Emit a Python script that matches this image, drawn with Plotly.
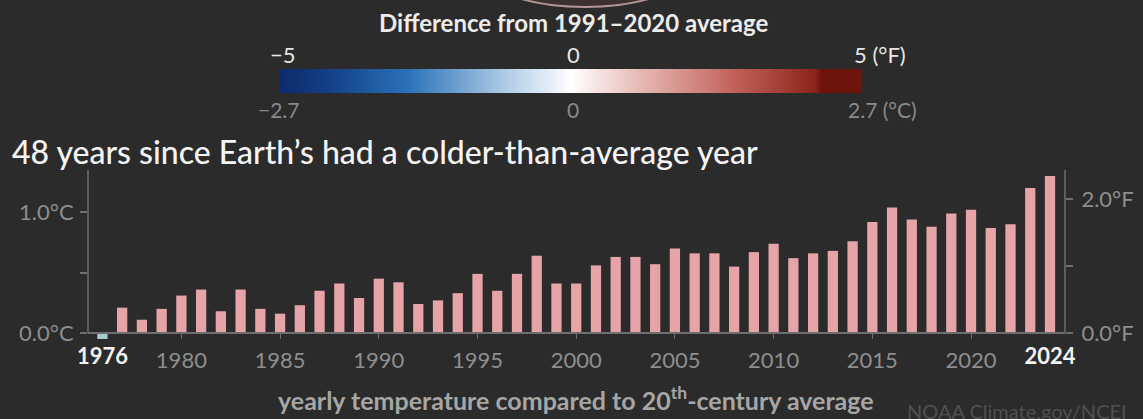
import plotly.graph_objects as go

years = list(range(1976, 2025))
anomaly_c = [-0.05, 0.21, 0.11, 0.20, 0.31, 0.36, 0.18, 0.36, 0.20, 0.16,
             0.23, 0.35, 0.41, 0.29, 0.45, 0.42, 0.24, 0.27, 0.33, 0.49,
             0.35, 0.49, 0.64, 0.41, 0.41, 0.56, 0.63, 0.63, 0.57, 0.70,
             0.66, 0.66, 0.55, 0.67, 0.74, 0.62, 0.66, 0.68, 0.76, 0.92,
             1.04, 0.94, 0.88, 0.99, 1.02, 0.87, 0.90, 1.20, 1.30]
bar_colors = ["#a9c9cc" if v < 0 else "#e6a3a8" for v in anomaly_c]

x_ticks = [1980, 1985, 1990, 1995, 2000, 2005, 2010, 2015, 2020]
x_bold_ticks = [1976, 2024]
yc_ticks = [0, 0.5, 1.0]
yc_labels = ["0.0°C", "", "1.0°C"]
yf_ticks = [0, 1, 2]
yf_labels = ["0.0°F", "", "2.0°F"]
C_TO_F = 1.8
Y_MIN, Y_MAX = -0.058, 1.35

BG = "#2b2b2b"
FONT = "Lato"
W, H = 1143, 419
L, R, T, B = 88, 1065, 170, 340
BASE = 333  # pixel row of the zero line

def px(x):
    return (x - L) / (R - L)

def py(y):
    return (B - y) / (B - T)

fig = go.Figure()
fig.add_trace(go.Bar(x=years, y=anomaly_c, marker_color=bar_colors,
                     marker_line_width=0, width=0.52,
                     hoverinfo="x+y", showlegend=False))
# invisible traces to carry the °F axis and the bold year labels
fig.add_trace(go.Scatter(x=[years[0]], y=[0], yaxis="y2", mode="markers",
                         marker=dict(opacity=0), showlegend=False, hoverinfo="skip"))
fig.add_trace(go.Scatter(x=[years[0]], y=[0], xaxis="x2", mode="markers",
                         marker=dict(opacity=0), showlegend=False, hoverinfo="skip"))
# colour scale legend
fig.add_trace(go.Scatter(
    x=[None], y=[None], mode="markers", showlegend=False,
    marker=dict(color=[-2.7, 2.7], cmin=-2.7, cmax=2.7, showscale=True,
                colorscale=[[0, "#0d2b6b"], [0.08, "#123e86"], [0.22, "#2a72b8"],
                            [0.38, "#a9c8e4"], [0.5, "#ffffff"], [0.62, "#e6b9b4"],
                            [0.78, "#c0625a"], [0.92, "#8c2418"], [0.93, "#6d140c"],
                            [1, "#6d140c"]],
                colorbar=dict(orientation="h", lenmode="pixels", len=582,
                              thickness=24, x=px(571), xanchor="center",
                              y=py(81), yanchor="middle", xpad=0, ypad=0,
                              outlinewidth=0, showticklabels=False, ticks=""))))

axis_col = "#6e6e6e"
base_pos = (B - BASE) / (B - T)
tick_font = dict(size=22, color="#8e8e8e", family=FONT)
fig.update_layout(
    width=W, height=H, paper_bgcolor=BG, plot_bgcolor=BG,
    margin=dict(l=L, r=W - R, t=T, b=H - B, autoexpand=False),
    font=dict(family=FONT, color="#9a9a9a"),
    xaxis=dict(range=[1975.27, 2024.76], tickvals=x_ticks,
               ticktext=[str(v) for v in x_ticks], ticks="outside", ticklen=5,
               tickcolor=axis_col, showgrid=False, zeroline=False,
               anchor="free", position=base_pos,
               showline=True, linecolor=axis_col, linewidth=1.5,
               tickfont=tick_font, ticklabelstandoff=3),
    xaxis2=dict(range=[1975.27, 2024.76], overlaying="x", side="bottom",
                anchor="free", position=base_pos,
                tickvals=x_bold_ticks,
                ticktext=["<b>%d</b>" % v for v in x_bold_ticks], ticks="",
                showgrid=False, zeroline=False, showline=False,
                tickfont=dict(size=22, color="#f2f2f2", family=FONT),
                ticklabelstandoff=8),
    yaxis=dict(range=[Y_MIN, Y_MAX], tickvals=yc_ticks, ticktext=yc_labels,
               ticks="outside", ticklen=7, tickcolor=axis_col, tickwidth=1.5,
               showgrid=False, zeroline=False, showline=False,
               tickfont=tick_font, ticklabelstandoff=2),
    yaxis2=dict(range=[Y_MIN * C_TO_F, Y_MAX * C_TO_F], overlaying="y",
                side="right", tickvals=yf_ticks, ticktext=yf_labels,
                ticks="outside", ticklen=7, tickcolor=axis_col, tickwidth=1.5,
                showgrid=False, zeroline=False, showline=False,
                tickfont=tick_font, ticklabelstandoff=4),
)

# vertical axis lines from the zero line up to the top of the scale
for xp in (0, 1):
    fig.add_shape(type="line", xref="paper", yref="y", x0=xp, x1=xp,
                  y0=0, y1=Y_MAX, line=dict(color=axis_col, width=1.5))

ann = []
def add(text, x, y, size, color, xanchor="center", weight="normal"):
    ann.append(dict(text=text, x=px(x), y=py(y), xref="paper", yref="paper",
                    xanchor=xanchor, yanchor="middle", showarrow=False,
                    font=dict(family=FONT, size=size, color=color, weight=weight)))

add("Difference from 1991–2020 average", 573, 22, 24, "#ececec", weight="bold")
add("−5", 283, 54, 22, "#e6e6e6")
add("0", 573, 54, 22, "#e6e6e6")
add("5 (°F)", 852, 54, 22, "#e6e6e6", xanchor="left")
add("−2.7", 279, 109, 21, "#8a8a8a")
add("0", 573, 109, 21, "#8a8a8a")
add("2.7 (°C)", 846, 109, 21, "#8a8a8a", xanchor="left")
add("48 years since Earth’s had a colder-than-average year", 10, 151, 32,
    "#f4f4f4", xanchor="left", weight=500)
add("yearly temperature compared to 20<sup>th</sup>-century average", 576, 398, 25,
    "#a6a6a6", weight="bold")
add("NOAA Climate.gov/NCEI", 905, 411, 20, "#505050", xanchor="left")
fig.update_layout(annotations=ann)

# faint rim of the globe image above the legend
fig.add_shape(type="circle", xref="paper", yref="paper",
              x0=px(470), x1=px(700), y0=py(7), y1=py(-90),
              line=dict(color="rgba(225,185,185,0.75)", width=2),
              fillcolor="#3a3030", layer="below")

fig.write_html("out.html",
               config={"displayModeBar": False},
               post_script="document.body.style.margin='0';"
                           "document.body.style.background='#2b2b2b';"
                           "document.body.style.overflow='hidden';")
